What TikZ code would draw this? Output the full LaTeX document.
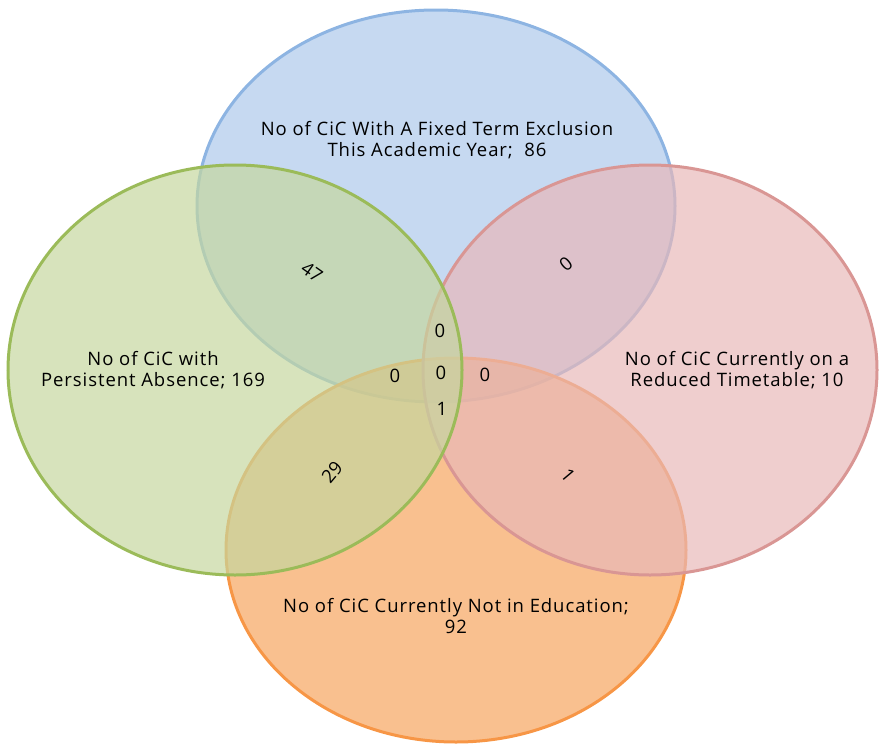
\documentclass[tikz,border=0pt]{standalone}
\usepackage{fontspec}
\setmainfont{Open Sans}[LetterSpace=5]
\newfontfamily\countfont{Open Sans}
\usetikzlibrary{positioning}

\definecolor{exclline}{RGB}{141,180,226}
\definecolor{exclfill}{RGB}{172,200,235}
\definecolor{absline}{RGB}{155,187,89}
\definecolor{absfill}{RGB}{197,215,158}
\definecolor{redline}{RGB}{217,150,148}
\definecolor{redfill}{RGB}{232,184,184}
\definecolor{eduline}{RGB}{247,150,70}
\definecolor{edufill}{RGB}{246,164,93}

\begin{document}
\begin{tikzpicture}[x=1pt,y=-1pt,line width=3pt,
	set/.style 2 args={draw=#1,fill=#2,fill opacity=.69},
	lbl/.style={align=center,font=\fontsize{18.5}{21}\selectfont,inner sep=0pt},
	num/.style={font=\countfont\fontsize{18.5}{21}\selectfont,inner sep=0pt}]
	\useasboundingbox (0,0) rectangle (880,744);
	% the four sets
	\draw[set={exclline}{exclfill}] (436,206) ellipse [x radius=239pt,y radius=196pt];
	\draw[set={eduline}{edufill}] (456,550) ellipse [x radius=230pt,y radius=192pt];
	\draw[set={redline}{redfill}] (650,370) ellipse [x radius=227pt,y radius=205pt];
	\draw[set={absline}{absfill}] (235,370) ellipse [x radius=227pt,y radius=205pt];
	
	% set labels
	\node[lbl](excl) at (437,140){No of CiC With A Fixed Term Exclusion\\This Academic Year;\ \ 86};
	\node[lbl](abs) at (153,370){No of CiC with\\Persistent Absence; 169};
	\node[lbl](red) at (737,370){No of CiC Currently on a\\Reduced Timetable; 10};
	\node[lbl](edu) at (456,616){No of CiC Currently Not in Education;\\92};
	
	% overlap counts
	\node[num,rotate=-35](ea) at (312,272){47};
	\node[num,rotate=40](er) at (566,264){0};
	\node[num,rotate=50](ad) at (332,472){29};
	\node[num,rotate=-50](rd) at (568,475){1};
	\node[num](ear) at (440,331){0};
	\node[num](ead) at (395,376){0};
	\node[num](eard) at (441,373){0};
	\node[num](erd) at (485,375){0};
	\node[num](ard) at (442,409){1};
\end{tikzpicture}
\end{document}
